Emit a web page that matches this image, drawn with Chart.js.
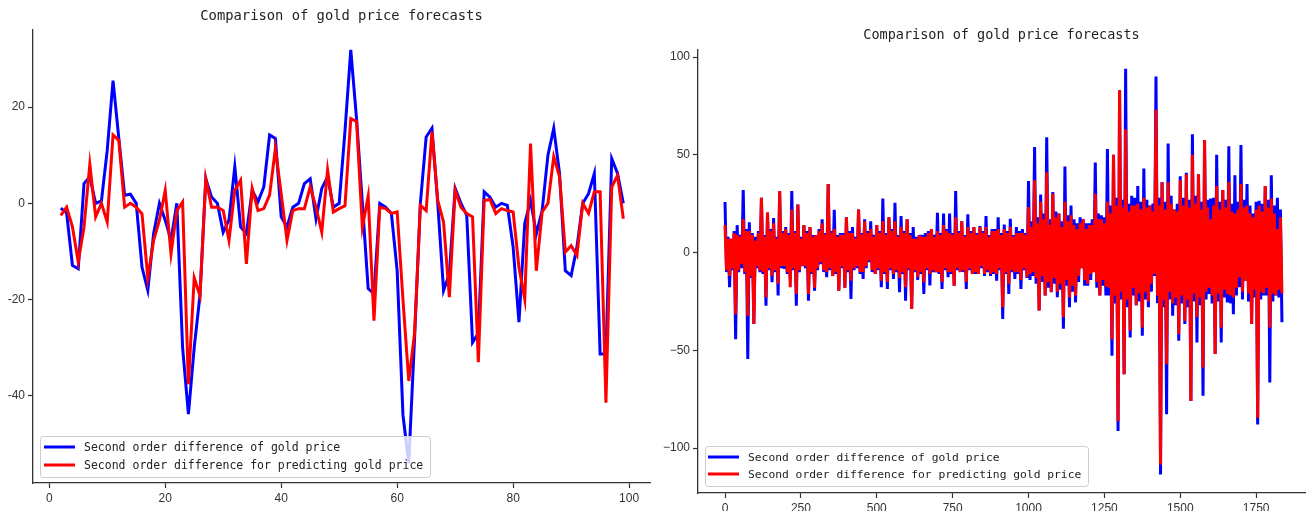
<!DOCTYPE html>
<html>
<head>
<meta charset="utf-8">
<script src="https://cdn.jsdelivr.net/npm/chart.js@4.4.1/dist/chart.umd.min.js"></script>
<style>
  body { margin: 0; background: #fff; }
  #test-chart { position: absolute; left: 0; top: 0; }
  #full-chart { position: absolute; left: 655px; top: 0; }
</style>
</head>
<body>
<canvas id="test-chart" width="655" height="511"></canvas>
<canvas id="full-chart" width="657" height="511"></canvas>
<script>
var TITLE = 'Comparison of gold price forecasts';
var LABEL_ACTUAL = 'Second order difference of gold price';
var LABEL_PRED = 'Second order difference for predicting gold price';

// test window: days 2..99
var testDays = Array.from({length: 98}, function (_, i) { return i + 2; });
var testActual = [
    -1, -2, -12.9, -13.6, 4.1, 5.5, 0, 0.5, 11, 25.5,
    13.5, 1.7, 1.9, 0, -13.3, -18.1, -6.3, 0, -3.5, -7.7,
    0, -30, -43.8, -30, -19, 5.1, 1.3, 0, -6, -3.5,
    7.6, -4.9, -6.3, 2.7, 0.3, 3.4, 14.2, 13.5, -2.8, -4.9,
    -0.8, 0, 4.1, 5.1, -3.2, 3.1, 5.5, -0.8, 0, 15,
    31.9, 17.5, 0, -17.7, -18.8, 0, -0.8, -2.1, -14, -44,
    -54, -28, 0, 13.8, 15.6, 0, -18.1, -14.6, 3.1, 0,
    -2.5, -28.9, -27, 2.4, 1.3, -0.8, 0, -0.4, -9.1, -24.7,
    -4.2, 0.6, -6.3, -1.5, 10, 15.6, 6.2, -14, -15, -9.1,
    0, 2, 6.2, -31.3, -31.3, 9.3, 6.2, 0
];
var testPred = [
    -2.5, -0.8, -4.9, -12.2, -4.9, 8.1, -2.8, 0, -3.9, 14.2,
    13.1, -0.8, 0, -0.8, -2.2, -15.5, -7.7, -3.5, 2.7, -10.5,
    -1.5, 0.3, -37.6, -15.5, -19.2, 5.1, -0.8, -0.8, -1.5, -7.7,
    2.7, 4.8, -12.6, 3.1, -1.5, -1.1, 1.7, 11.4, 2, -7.7,
    -1.5, -1.1, -1.1, 3.4, -0.8, -6, 6.9, -1.8, -1.1, -0.5,
    17.6, 17, -5, 1.5, -24.4, -0.8, -1.1, -2.1, -1.8, -20,
    -36.9, -27, -0.4, -1.5, 14.9, 0.6, -3.9, -19.5, 2.7, -0.8,
    -2.1, -2.8, -33, 0.6, 0.8, -2.1, -1.1, -1.5, -1.8, -13.3,
    -19.9, 12.4, -14, -1.8, 0, 9.7, 5.5, -10.1, -8.8, -10.8,
    0, -2.1, 2.4, 2.4, -41.4, 3.4, 5.8, -3.2
];
var testXTicks = [0, 20, 40, 60, 80, 100];
var testYTicks = [-40, -20, 0, 20];

// whole history, one value every 5 days
var fullStep = 5;
var fullActual = [
    25.8, -10, 8, -17.8,   7, -9, 11, -44.3,   14, -10, 9, -8,   32, -11, 12, -54.5,   15.5, -13, 10, -36.6,
    8, -8, 11, -10,   28, -11, 9, -27.2,   20, -9, 12, -15.2,   17.7, -10, 8, -22,   31.4, -8, 11, -8.4,
    13, -11, 10, -13.5,   31.4, -9, 11, -27.2,   24.5, -10, 8, -7,   14, -8, 11, -24.6,   13, -11, 9, -19.5,
    9, -9, 12, -6,   17, -10, 10, -12.6,   35, -9, 11, -12,   21.8, -11, 9, -19.5,   10, -8, 10, -18,
    18, -10, 11, -23.8,   13, -9, 8, -8,   22, -11, 10, -13.5,   17, -8, 11, -5,   16, -10, 9, -11,
    14, -9, 11, -17.8,   27.6, -11, 10, -18.6,   18, -9, 12, -13.5,   25.5, -10, 9, -20.3,   18.7, -11, 11, -24.6,
    17, -9, 10, -28.9,   13, -10, 8, -14,   9, -11, 9, -21.2,   10, -9, 11, -16.9,   12, -10, 9, -10,
    20.3, -11, 10, -18.6,   20, -9, 12, -12.6,   20, -11, 10, -17,   31.4, -9, 11, -10,   16, -10, 9, -18.6,
    19.5, -9, 11, -11,   13, -11, 10, -11,   13.5, -8, 11, -12,   18.7, -10, 9, -12,   12, -11, 12, -14.4,
    18, -9, 10, -34,   14.3, -11, 11, -21.2,   17.3, -10, 9, -13.5,   13, -11, 11, -18.6,   12, -9, 10, -13,
    36.6, -14, 16, -12,   54, -16, 18, -29.7,   29.7, -15, 20, -22,   59, -18, 17, -20.3,   31, -16, 21, -22.9,
    20, -19, 16, -39,   44, -17, 19, -28,   24, -20, 17, -25.5,   15, -15, 18, -8,   17, -17, 15, -17,
    15, -14, 17, -10,   46, -18, 20, -22,   19, -17, 18, -22,   53, -22, 24, -52.8,   50, -26, 28, -91.3,
    83, -24, 27, -62.2,   94, -28, 25, -43.4,   29, -22, 28, -27,   34, -25, 26, -42.6,   43, -24, 27, -28,
    24, -20, 25, -12,   90, -26, 28, -113.5,   36, -28, 26, -82.7,   55.8, -24, 29, -32.3,   22, -27, 25, -45.1,
    39, -26, 28, -36.6,   40.8, -28, 27, -75.9,   60.5, -25, 29, -46,   40, -27, 26, -73.3,   57.4, -24, 27, -21.2,
    27.6, -26, 28, -51.9,   50, -25, 26, -46,   32, -23, 27, -25.5,   54.3, -26, 25, -31.5,   39.5, -22, 26, -17.8,
    55, -24, 27, -14.4,   35, -25, 24, -36.6,   20, -23, 26, -87.9,   26.5, -24, 25, -22,   34, -22, 27, -66.5,
    39.5, -25, 24, -22,   28, -23, 22, -35.7
];
var fullPred = [
    14, -9, 7, -12,   7, -8, 10, -31.5,   9, -9, 8, -6,   17, -10, 11, -32.3,   11, -12, 9, -36.6,
    6, -7, 10, -9.2,   28, -10, 8, -23,   20.6, -8, 11, -12,   15, -9, 7, -16,   31.4, -7, 10, -7,
    12, -10, 9, -17.8,   22, -8, 10, -21.2,   24.5, -9, 7, -6.7,   14, -7, 10, -21.2,   13, -10, 8, -18,
    9, -8, 11, -5,   15, -9, 9, -10,   35, -8, 10, -12,   12, -10, 8, -19.5,   9, -7, 9, -18,
    18, -9, 10, -14.4,   10, -8, 7, -7,   22, -10, 9, -10,   16, -7, 10, -4,   12, -9, 8, -11,
    14, -8, 10, -14.4,   16, -10, 9, -15,   18, -8, 11, -11,   16, -9, 8, -13,   13, -10, 10, -17.8,
    17, -8, 9, -28.9,   7, -9, 7, -12.6,   8.7, -10, 8, -15.2,   8, -8, 10, -11,   12, -9, 8, -10,
    11, -10, 9, -15,   14, -8, 11, -10,   10, -10, 9, -17,   18, -8, 10, -10,   16, -9, 8, -15,
    13, -8, 10, -11,   13, -10, 9, -11,   13, -7, 10, -11,   13, -9, 8, -11,   11, -10, 11, -11,
    12, -8, 9, -28,   12, -10, 10, -16,   13, -9, 8, -10,   10, -10, 10, -14,   10, -8, 9, -12.6,
    23.3, -11, 13, -10,   37, -13, 15, -29.7,   26, -12, 17, -22,   41, -15, 14, -20,   30, -13, 18, -20,
    20, -16, 13, -33,   26, -14, 16, -23,   19, -17, 14, -22,   12, -12, 15, -8,   17, -14, 12, -16,
    14, -11, 14, -10,   30, -15, 17, -22,   17, -14, 15, -17.5,   26, -18, 20, -44.3,   50, -22, 24, -86.2,
    83, -20, 23, -62.2,   63, -24, 21, -40,   24, -18, 24, -27,   25, -21, 22, -38.3,   28, -20, 23, -25,
    24, -16, 21, -11,   73, -22, 24, -108.4,   36, -24, 22, -57.1,   36, -20, 25, -26,   22, -23, 21, -41.7,
    37, -22, 24, -35,   40, -24, 23, -75.9,   50, -21, 25, -33,   40, -23, 22, -58.8,   57.4, -20, 23, -18,
    17, -22, 24, -51.9,   34, -21, 22, -38.3,   32, -19, 23, -21.2,   36, -22, 21, -23,   20, -18, 22, -12.6,
    35, -20, 23, -14.4,   24, -21, 20, -36.6,   18, -19, 22, -84.5,   24, -20, 21, -21,   34, -18, 23, -38.3,
    27.6, -21, 20, -22,   12, -19, 18, -21
];
var fullDays = fullActual.map(function (_, i) { return i * fullStep; });
var fullXTicks = [0, 250, 500, 750, 1000, 1250, 1500, 1750];
var fullYTicks = [-100, -50, 0, 50, 100];

var MONO = '"DejaVu Sans Mono", "Liberation Mono", monospace';
var SANS = '"Liberation Sans", Arial, sans-serif';

// matplotlib-style legend box drawn inside the plot
var legendBox = {
    id: 'legendBox',
    afterDraw: function (chart, args, o) {
        var ctx = chart.ctx;
        ctx.save();
        ctx.fillStyle = 'rgba(255,255,255,0.8)';
        ctx.strokeStyle = '#cccccc';
        ctx.lineWidth = 1;
        ctx.beginPath();
        ctx.roundRect(o.x + 0.5, o.y + 0.5, o.w, o.h, 3);
        ctx.fill();
        ctx.stroke();
        ctx.font = o.fontSize + 'px ' + MONO;
        ctx.textBaseline = 'middle';
        chart.data.datasets.forEach(function (ds, i) {
            var y = o.firstRow + i * o.rowGap;
            ctx.strokeStyle = ds.borderColor;
            ctx.lineWidth = 3;
            ctx.beginPath();
            ctx.moveTo(o.handleX, y);
            ctx.lineTo(o.handleX + 31, y);
            ctx.stroke();
            ctx.fillStyle = '#222';
            ctx.fillText(ds.label, o.textX, y + 1);
        });
        ctx.restore();
    }
};

function points(xs, ys) {
    return xs.map(function (x, i) { return {x: x, y: ys[i]}; });
}

function makePanel(id, p) {
    var axisGrid = {display: true, drawOnChartArea: false, drawTicks: true, tickLength: 5, tickWidth: 1.2, tickColor: '#333'};
    var axisBorder = {display: true, color: '#333', width: 1.3};
    return new Chart(document.getElementById(id), {
        type: 'line',
        data: {
            datasets: [{
                label: LABEL_ACTUAL,
                data: points(p.xs, p.actual),
                borderColor: '#0000ff',
                backgroundColor: '#0000ff',
                borderWidth: 3,
                pointRadius: 0,
                tension: 0,
                order: 1
            }, {
                label: LABEL_PRED,
                data: points(p.xs, p.pred),
                borderColor: '#ff0000',
                backgroundColor: '#ff0000',
                borderWidth: 3,
                pointRadius: 0,
                tension: 0,
                order: 0
            }]
        },
        options: {
            responsive: false,
            animation: false,
            layout: {padding: {left: 0, right: p.padRight, top: 0, bottom: 0}},
            plugins: {
                legend: {display: false},
                tooltip: {enabled: false},
                title: {
                    display: true,
                    text: TITLE,
                    fullSize: false,
                    color: '#222',
                    font: {family: MONO, size: p.titleSize, weight: 'normal'},
                    padding: p.titlePad
                },
                legendBox: p.legend
            },
            scales: {
                x: {
                    type: 'linear',
                    min: p.xMin,
                    max: p.xMax,
                    afterBuildTicks: function (s) { s.ticks = p.xTicks.map(function (v) { return {value: v}; }); },
                    afterFit: function (s) { s.height = p.xAxisH; },
                    grid: axisGrid,
                    border: axisBorder,
                    ticks: {color: '#333', font: {family: SANS, size: 12}, padding: 3, maxRotation: 0, autoSkip: false,
                        callback: function (v) { return String(v); }}
                },
                y: {
                    min: p.yMin,
                    max: p.yMax,
                    afterBuildTicks: function (s) { s.ticks = p.yTicks.map(function (v) { return {value: v}; }); },
                    afterFit: function (s) { s.width = p.yAxisW; },
                    grid: axisGrid,
                    border: axisBorder,
                    ticks: {color: '#333', font: {family: SANS, size: 12}, padding: 3,
                        callback: function (v) { return p.fmtY(v); }}
                }
            }
        },
        plugins: [legendBox]
    });
}

makePanel('test-chart', {
    xs: testDays, actual: testActual, pred: testPred,
    xTicks: testXTicks, yTicks: testYTicks,
    xMin: -2.8, xMax: 103.6, yMin: -58.1, yMax: 36,
    xAxisH: 28, yAxisW: 33, padRight: 5,
    titleSize: 13.8, titlePad: {top: 8, bottom: 5.5},
    fmtY: function (v) { return String(v); },
    legend: {x: 40, y: 436, w: 390, h: 41, handleX: 44, textX: 84, firstRow: 447, rowGap: 18, fontSize: 11.5}
});

makePanel('full-chart', {
    xs: fullDays, actual: fullActual, pred: fullPred,
    xTicks: fullXTicks, yTicks: fullYTicks,
    xMin: -89, xMax: 1911, yMin: -123, yMax: 104,
    xAxisH: 18, yAxisW: 43, padRight: 7,
    titleSize: 13.5, titlePad: {top: 27, bottom: 6},
    fmtY: function (v) { return String(v).replace('-', '\u2212'); },
    legend: {x: 50, y: 446, w: 383, h: 40, handleX: 53, textX: 93, firstRow: 457, rowGap: 17, fontSize: 11.3}
});
</script>
</body>
</html>
